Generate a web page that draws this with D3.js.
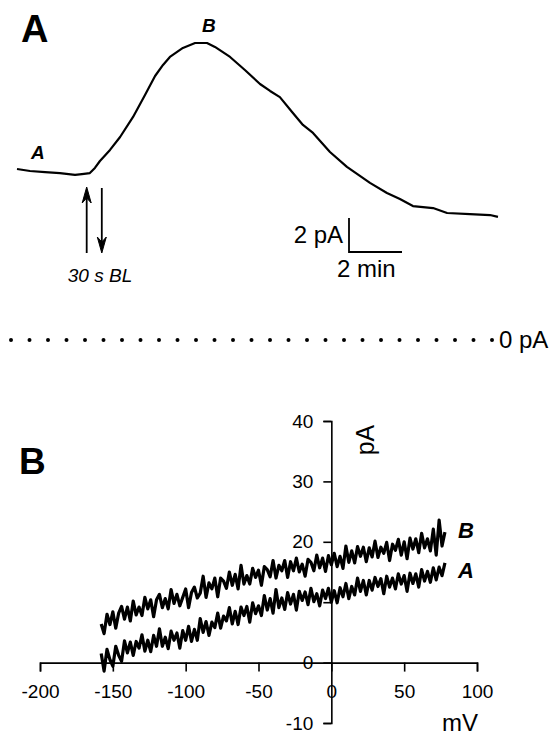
<!DOCTYPE html>
<html lang="en">
<head>
  <meta charset="UTF-8">
  <title>Current time course and I-V relation</title>
  <script src="https://d3js.org/d3.v7.min.js"></script>
  <style>
    body {
      margin: 0;
      background-color: #fff;
      font-family: "Liberation Sans", Arial, Helvetica, sans-serif;
    }

    svg {
      display: block;
    }

    .trace {
      fill: none;
      stroke: #000;
      stroke-linejoin: round;
    }

    .axis path,
    .axis line {
      stroke: #000;
      stroke-width: 1.6;
    }

    .axis text {
      font-family: "Liberation Sans", Arial, sans-serif;
      font-size: 19px;
      fill: #000;
    }
  </style>
</head>
<body>

<svg width="553" height="737"></svg>

<script>
  // panel A: current over time (min, pA)
  const timeMin = [0, 0.49, 1.06, 1.62, 2.19, 2.45, 2.75, 2.94, 3.13, 3.51, 3.89, 4.38, 4.83, 5.21,
    5.51, 5.77, 6.26, 6.72, 7.17, 7.47, 8.04, 8.6, 9.17, 9.55, 9.92, 10.38, 10.79, 11.17, 11.81,
    12.45, 12.94, 13.32, 13.96, 14.45, 14.94, 15.7, 16.23, 17.09, 17.85, 18.15];
  const currentPA = [10.06, 9.94, 9.88, 9.82, 9.71, 9.76, 9.82, 10.12, 10.53, 11.18, 11.94, 13.12,
    14.41, 15.53, 16.18, 16.65, 17.18, 17.47, 17.47, 17.24, 16.65, 15.88, 15.06, 14.65, 14.29,
    13.41, 12.65, 12.18, 11.06, 10.18, 9.65, 9.24, 8.65, 8.29, 7.88, 7.76, 7.47, 7.41, 7.35, 7.24];
  const arrowOnMin = 2.63;
  const arrowOffMin = 3.2;

  // panel B: I-V ramps, 2 mV steps from -158 to 78 mV
  const voltageMV = d3.range(-158, 79, 2);
  const rampB = [6.4, 4.8, 8.0, 6.3, 8.4, 5.7, 8.2, 9.3, 7.2, 9.2, 6.9, 10.2, 7.9, 9.2, 7.8, 10.8,
    8.9, 10.4, 7.6, 10.4, 11.3, 9.1, 10.6, 8.9, 12.1, 9.8, 11.3, 9.4, 10.8, 12.2, 9.1, 11.6, 12.5,
    10.7, 11.5, 14.3, 10.8, 13.2, 12.2, 14.0, 10.9, 14.0, 13.5, 12.3, 15.0, 12.8, 14.6, 12.2, 16.1,
    13.0, 14.4, 13.0, 15.6, 14.1, 15.3, 12.8, 15.9, 15.4, 14.2, 16.9, 14.0, 16.1, 15.2, 16.9, 14.1,
    16.7, 15.2, 17.3, 15.0, 16.3, 14.3, 17.1, 16.6, 15.2, 17.8, 15.7, 17.3, 15.1, 17.7, 16.2, 18.1,
    15.9, 17.6, 15.6, 19.3, 16.6, 18.5, 16.5, 19.2, 17.6, 19.1, 16.7, 19.0, 17.5, 20.1, 17.4, 19.1,
    18.1, 19.9, 16.9, 19.6, 18.6, 20.4, 17.8, 20.0, 17.2, 20.6, 18.8, 20.5, 18.2, 21.4, 19.0, 20.5,
    18.5, 22.1, 17.8, 23.6, 19.3, 21.6];
  const rampA = [1.5, -1.4, 2.2, 0.5, -0.6, 2.7, 1.2, 0.2, 3.6, 1.6, 3.4, 1.2, 3.5, 2.4, 4.6, 1.9,
    3.7, 1.8, 4.5, 2.7, 5.6, 2.7, 4.2, 2.3, 5.2, 3.7, 4.9, 2.4, 5.3, 3.7, 6.0, 3.5, 5.5, 3.7, 7.3,
    5.0, 6.8, 4.5, 6.7, 5.8, 8.2, 5.7, 7.7, 6.9, 9.1, 6.4, 8.5, 6.3, 9.2, 7.8, 9.3, 6.7, 9.9, 8.1,
    9.4, 7.8, 11.1, 8.7, 10.6, 8.2, 12.1, 9.1, 10.7, 8.8, 11.6, 9.7, 11.3, 8.7, 11.8, 10.3, 11.7,
    9.6, 12.3, 10.1, 11.4, 9.4, 12.0, 10.6, 12.3, 10.0, 11.9, 9.9, 12.4, 10.9, 13.1, 10.6, 12.6,
    11.2, 14.0, 11.8, 13.6, 11.2, 13.6, 12.0, 14.1, 12.6, 13.9, 11.4, 14.3, 12.5, 14.0, 12.2, 14.7,
    13.0, 14.4, 11.8, 14.8, 13.1, 14.7, 12.5, 15.4, 13.5, 15.1, 13.3, 15.7, 13.7, 15.8, 14.4, 16.5];
  const xTicks = [-200, -150, -100, -50, 0, 50, 100];
  const yTicks = [-10, 0, 10, 20, 30, 40];
  const yTickLabels = ["-10", "0", "", "20", "30", "40"];

  const svg = d3.select("svg");
  const font = "'Liberation Sans', Arial, sans-serif";

  // ---------- panel A ----------
  const xT = d3.scaleLinear().domain([0, 2]).range([17, 70]);
  const yT = d3.scaleLinear().domain([0, 2]).range([340, 306]);

  svg.append("text")
          .attr("x", 21).attr("y", 42)
          .attr("font-family", font).attr("font-weight", "bold").attr("font-size", 38)
          .text("A");

  svg.append("path")
          .datum(timeMin.map((t, i) => [t, currentPA[i]]))
          .attr("class", "trace")
          .attr("stroke-width", 2.2)
          .attr("d", d3.line().x(d => xT(d[0])).y(d => yT(d[1])));

  svg.append("text")
          .attr("x", 31).attr("y", 159)
          .attr("font-family", font).attr("font-weight", "bold").attr("font-style", "italic")
          .attr("font-size", 19)
          .text("A");
  svg.append("text")
          .attr("x", 202).attr("y", 32)
          .attr("font-family", font).attr("font-weight", "bold").attr("font-style", "italic")
          .attr("font-size", 19)
          .text("B");

  // solution switch arrows
  function arrow(x, yFrom, yTo) {
    const dir = yTo < yFrom ? -1 : 1;
    svg.append("line")
            .attr("x1", x).attr("x2", x)
            .attr("y1", yFrom).attr("y2", yTo - dir * 8)
            .attr("stroke", "#000").attr("stroke-width", 1.8);
    svg.append("path")
            .attr("d", `M${x},${yTo} L${x - 4.5},${yTo - dir * 16} L${x},${yTo - dir * 11} L${x + 4.5},${yTo - dir * 16} Z`)
            .attr("fill", "#000").attr("stroke", "#000").attr("stroke-width", 1)
            .attr("stroke-linejoin", "round");
  }
  arrow(xT(arrowOnMin), 253, 187);
  arrow(xT(arrowOffMin), 188, 253);

  svg.append("text")
          .attr("x", 100).attr("y", 282)
          .attr("text-anchor", "middle")
          .attr("font-family", font).attr("font-style", "italic").attr("font-size", 19)
          .text("30 s BL");

  // scale bar 2 pA / 2 min
  const sbX = 349, sbY = 252;
  svg.append("path")
          .attr("d", `M${sbX},${sbY - (yT(0) - yT(2))} V${sbY} H${sbX + (xT(2) - xT(0))}`)
          .attr("fill", "none").attr("stroke", "#000").attr("stroke-width", 1.8);
  svg.append("text")
          .attr("x", 343).attr("y", 243)
          .attr("text-anchor", "end")
          .attr("font-family", font).attr("font-size", 24)
          .text("2 pA");
  svg.append("text")
          .attr("x", 337).attr("y", 277)
          .attr("font-family", font).attr("font-size", 24)
          .text("2 min");

  // zero current level
  svg.append("line")
          .attr("x1", 11).attr("x2", 493)
          .attr("y1", yT(0)).attr("y2", yT(0))
          .attr("stroke", "#000").attr("stroke-width", 4)
          .attr("stroke-linecap", "round")
          .attr("stroke-dasharray", "0 18.5");
  svg.append("text")
          .attr("x", 499).attr("y", 348)
          .attr("font-family", font).attr("font-size", 24)
          .text("0 pA");

  // ---------- panel B ----------
  const xV = d3.scaleLinear().domain([-200, 100]).range([40, 477]);
  const yI = d3.scaleLinear().domain([-10, 40]).range([723, 421]);

  svg.append("text")
          .attr("x", 19).attr("y", 474)
          .attr("font-family", font).attr("font-weight", "bold").attr("font-size", 37)
          .text("B");

  svg.append("g")
          .attr("class", "axis")
          .attr("transform", `translate(0,${yI(0)})`)
          .call(d3.axisBottom(xV).tickValues(xTicks).tickSize(9).tickPadding(13).tickFormat(d3.format("d")));

  svg.append("g")
          .attr("class", "axis")
          .attr("transform", `translate(${xV(0)},0)`)
          .call(d3.axisLeft(yI).tickValues(yTicks).tickSize(8).tickPadding(10)
                  .tickFormat((d, i) => yTickLabels[i]));

  svg.selectAll(".axis text").text(function() { return this.textContent.replace("−", "-"); });

  const ivLine = d3.line().x(d => xV(d[0])).y(d => yI(d[1]));
  [rampA, rampB].forEach(ramp => {
    svg.append("path")
            .datum(voltageMV.map((v, i) => [v, ramp[i]]))
            .attr("class", "trace")
            .attr("stroke-width", 3.2)
            .attr("d", ivLine);
  });

  svg.append("text")
          .attr("x", 458).attr("y", 538)
          .attr("font-family", font).attr("font-weight", "bold").attr("font-style", "italic")
          .attr("font-size", 22)
          .text("B");
  svg.append("text")
          .attr("x", 458).attr("y", 578)
          .attr("font-family", font).attr("font-weight", "bold").attr("font-style", "italic")
          .attr("font-size", 22)
          .text("A");

  svg.append("text")
          .attr("transform", `translate(374,440) rotate(-90)`)
          .attr("text-anchor", "middle")
          .attr("font-family", font).attr("font-size", 25)
          .text("pA");
  svg.append("text")
          .attr("x", 460).attr("y", 731)
          .attr("text-anchor", "middle")
          .attr("font-family", font).attr("font-size", 24)
          .text("mV");
</script>
</body>
</html>
